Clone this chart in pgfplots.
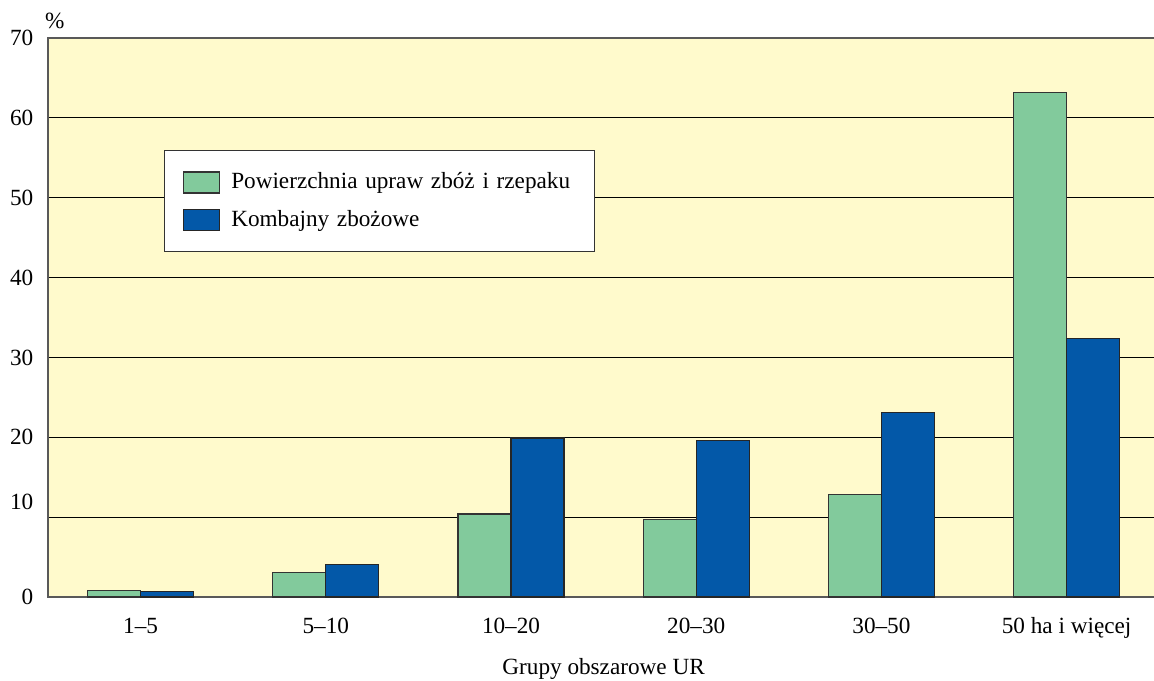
\documentclass[border=0pt]{standalone}
\usepackage{fontspec}
\setmainfont{Liberation Serif}
\usepackage{pgfplots}
\pgfplotsset{compat=1.18}
\definecolor{tlo}{HTML}{FFFACC}
\definecolor{zielony}{HTML}{82CA9C}
\definecolor{niebieski}{HTML}{0358A8}
\begin{document}
\begin{tikzpicture}[x=1pt,y=1pt]
\useasboundingbox (0,0) rectangle (577,340);
\begin{axis}[
  at={(24pt,41.5pt)}, anchor=south west,
  scale only axis, width=555.6pt, height=279.5pt,
  clip=false,
  font=\fontsize{11.6}{13.8}\selectfont,
  /pgf/number format/assume math mode=true,
  ybar=0pt, bar width=26.5pt,
  xmin=-0.5, xmax=5.5, ymin=0, ymax=70,
  xtick=data,
  xticklabels={1–5,5–10,10–20,20–30,30–50,50 ha i więcej},
  ytick={0,10,...,70},
  yticklabels={0,{\raisebox{15pt}{10}},20,30,40,50,60,70},
  major tick length=0pt,
  ymajorgrids, grid style={black, line width=0.6pt},
  axis background/.style={fill=tlo},
  axis line style={draw=black!65, line width=0.8pt},
  xticklabel style={anchor=base, yshift=-18pt},
  yticklabel style={xshift=-3.8pt},
  xlabel={Grupy obszarowe UR},
  xlabel style={at={(axis description cs:0.5,0)}, anchor=base, yshift=-38.5pt},
  legend image code/.code={\draw[#1] (0pt,-5.25pt) rectangle (18pt,5.25pt);},
  legend cell align=left,
  legend style={at={(0.104,0.7996)}, anchor=north west, draw=black!80,
    line width=0.5pt, fill=white, inner xsep=9.5pt, inner ysep=10.4pt,
    row sep=7.6pt, column sep=5.5pt,
    nodes={inner sep=0pt, text width=172pt, align=left}},
]
\addplot[fill=zielony, draw=black!80, line width=0.6pt]
  coordinates {(0,0.85) (1,3.05) (2,10.4) (3,9.7) (4,12.8) (5,63.2)};
\addplot[fill=niebieski, draw=black!85, line width=0.6pt]
  coordinates {(0,0.7) (1,4.1) (2,19.9) (3,19.6) (4,23.1) (5,32.4)};
\legend{Powierzchnia upraw zbóż i rzepaku, Kombajny zbożowe}
\node[anchor=base west, xshift=-5pt, yshift=5pt] at (rel axis cs:0,1) {\%};
\end{axis}
\end{tikzpicture}
\end{document}
